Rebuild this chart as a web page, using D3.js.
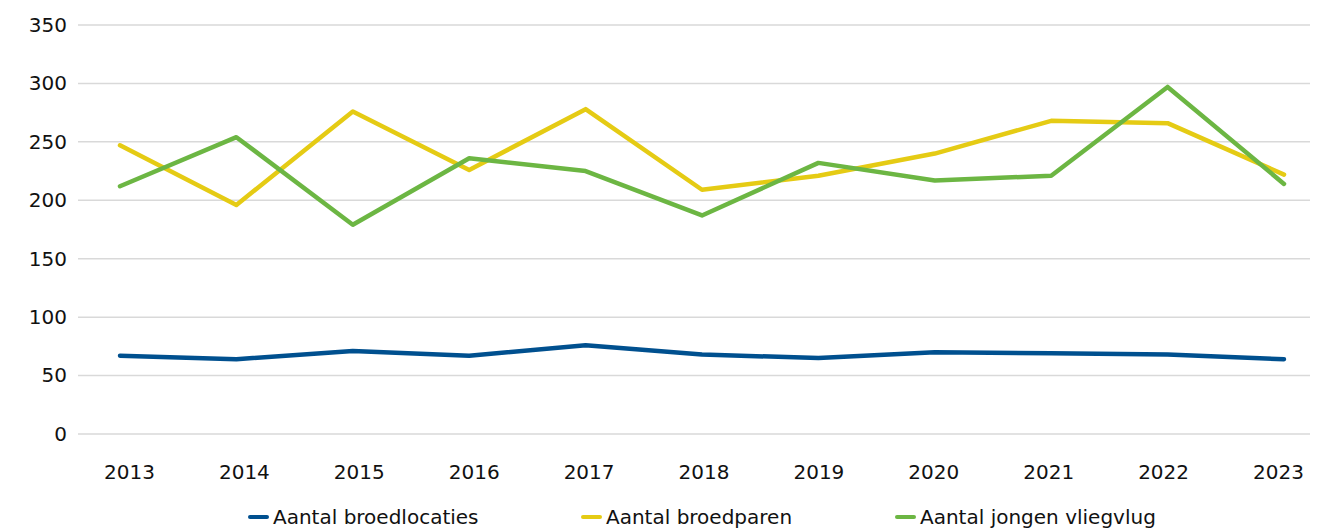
<!DOCTYPE html>
<html>
<head>
<meta charset="utf-8">
<script src="https://cdn.jsdelivr.net/npm/d3@7"></script>
<style>
  body { margin: 0; background: #fff; }
  svg text { font-family: "DejaVu Sans", Verdana, sans-serif; fill: #111; }
</style>
</head>
<body>
<div id="chart"></div>
<script>
// data
var years = ["2013", "2014", "2015", "2016", "2017", "2018", "2019", "2020", "2021", "2022", "2023"];
var broedlocaties = [67, 64, 71, 67, 76, 68, 65, 70, 69, 68, 64];
var broedparen = [247, 196, 276, 226, 278, 209, 221, 240, 268, 266, 222];
var jongenVliegvlug = [212, 254, 179, 236, 225, 187, 232, 217, 221, 297, 214];
var yTicks = [0, 50, 100, 150, 200, 250, 300, 350];

var series = [
    { name: "Aantal broedlocaties", values: broedlocaties, color: "#00508f" },
    { name: "Aantal broedparen", values: broedparen, color: "#e5cb14" },
    { name: "Aantal jongen vliegvlug", values: jongenVliegvlug, color: "#6cb643" }
];

var width = 1335, height = 530;

var svg = d3.select("#chart").append("svg")
    .attr("width", width)
    .attr("height", height);

var y = d3.scaleLinear().domain([0, 350]).range([434, 25]);
var x = d3.scalePoint().domain(years).range([120, 1284]);
// the year labels sit on a slightly different spacing than the points
var xLabel = d3.scalePoint().domain(years).range([129, 1278]);

// gridlines
svg.append("g").selectAll("line")
    .data(yTicks)
    .enter().append("line")
    .attr("x1", 78).attr("x2", 1310)
    .attr("y1", function(d) { return y(d); })
    .attr("y2", function(d) { return y(d); })
    .attr("stroke", "#d9d9d9")
    .attr("stroke-width", 1.5);

// y labels
var yAxis = d3.axisLeft(y).tickValues(yTicks).tickSize(0).tickPadding(0);
var yg = svg.append("g").attr("transform", "translate(67,0)").call(yAxis);
yg.select(".domain").remove();
yg.selectAll("text").attr("font-size", 20).attr("font-family", null).attr("fill", "#111");

// x labels
var xAxis = d3.axisBottom(xLabel).tickSize(0).tickPadding(0);
var xg = svg.append("g").attr("transform", "translate(0,465)").call(xAxis);
xg.select(".domain").remove();
xg.selectAll("text").attr("font-size", 20).attr("font-family", null).attr("fill", "#111");

var line = d3.line()
    .x(function(d, i) { return x(years[i]); })
    .y(function(d) { return y(d); });

svg.append("g").selectAll("path")
    .data(series)
    .enter().append("path")
    .attr("d", function(s) { return line(s.values); })
    .attr("fill", "none")
    .attr("stroke", function(s) { return s.color; })
    .attr("stroke-width", 4.5)
    .attr("stroke-linejoin", "round")
    .attr("stroke-linecap", "round");

// legend (nudged up a little so the descenders stay inside the frame)
var legendX = [250, 583, 897];
var legend = svg.append("g").selectAll("g")
    .data(series)
    .enter().append("g")
    .attr("transform", function(s, i) { return "translate(" + legendX[i] + ",517)"; });

legend.append("line")
    .attr("x1", 0).attr("x2", 17)
    .attr("stroke", function(s) { return s.color; })
    .attr("stroke-width", 4)
    .attr("stroke-linecap", "round");

legend.append("text")
    .attr("x", 23)
    .attr("y", 7)
    .attr("font-size", 20)
    .text(function(s) { return s.name; });
</script>
</body>
</html>
